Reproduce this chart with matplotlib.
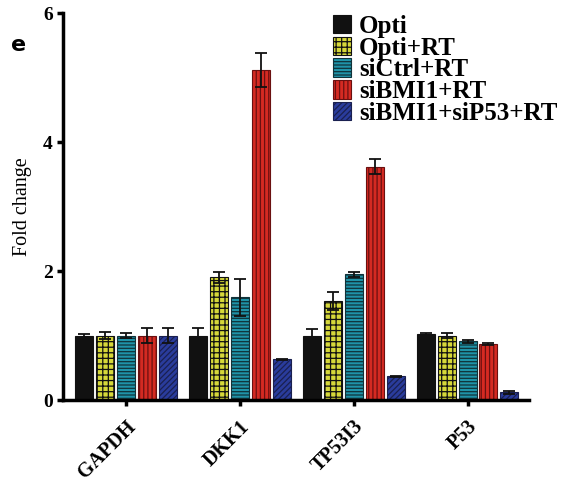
import numpy as np
import matplotlib
matplotlib.use("Agg")
import matplotlib.pyplot as plt
from matplotlib.transforms import ScaledTranslation

genes = ["GAPDH", "DKK1", "TP53I3", "P53"]
series = ["Opti", "Opti+RT", "siCtrl+RT", "siBMI1+RT", "siBMI1+siP53+RT"]

opti = [1.0, 1.0, 1.0, 1.02]
opti_rt = [1.0, 1.9, 1.54, 1.0]
sictrl_rt = [1.0, 1.59, 1.95, 0.91]
sibmi1_rt = [1.0, 5.12, 3.62, 0.87]
sibmi1_sip53_rt = [1.0, 0.63, 0.37, 0.12]

opti_err = [0.03, 0.11, 0.1, 0.02]
opti_rt_err = [0.06, 0.08, 0.14, 0.04]
sictrl_rt_err = [0.04, 0.29, 0.04, 0.02]
sibmi1_rt_err = [0.12, 0.26, 0.11, 0.01]
sibmi1_sip53_rt_err = [0.12, 0.01, 0.01, 0.02]

values = [opti, opti_rt, sictrl_rt, sibmi1_rt, sibmi1_sip53_rt]
errors = [opti_err, opti_rt_err, sictrl_rt_err, sibmi1_rt_err, sibmi1_sip53_rt_err]

# look of each series: face, hatch
faces = ["#111111", "#d6d83a", "#1f93a8", "#d42a22", "#2a3c9c"]
hatches = [None, "+++", "-----", "||||", "//////"]
edges = ["#111111", "#111111", "#10333a", "#6a1010", "#1a2050"]

plt.rcParams["hatch.linewidth"] = 0.9
serif = ["Liberation Serif", "DejaVu Serif"]

fig = plt.figure(figsize=(5.64, 4.82), dpi=100)
ax = fig.add_axes([0.112, 0.170, 0.826, 0.803])

x = np.arange(len(genes))
step = 0.184
width = 0.158
for i in range(len(series)):
    pos = x + (i - 2) * step
    ax.bar(pos, values[i], width, color=faces[i], edgecolor=edges[i],
           hatch=hatches[i], linewidth=0.8, label=series[i], zorder=2)
    ax.errorbar(pos, values[i], yerr=errors[i], fmt="none", ecolor="#111111",
                elinewidth=1.3, capsize=4, capthick=1.3, zorder=3)

ax.set_xlim(-0.55, 3.54)
ax.set_ylim(0, 6)
ax.set_yticks([0, 2, 4, 6])
ax.set_xticks(x)
ax.set_xticklabels(genes, rotation=45, ha="right", rotation_mode="anchor",
                   fontsize=14.5, fontweight="bold", family=serif)
ax.set_yticklabels(["0", "2", "4", "6"], fontsize=14, fontweight="bold", family=serif)
ax.set_ylabel("Fold change", fontsize=14.5, family=serif, labelpad=8)

# nudge the slanted labels a little to the left
shift = ScaledTranslation(-4 / 100, 0, fig.dpi_scale_trans)
for lbl in ax.get_xticklabels():
    lbl.set_transform(lbl.get_transform() + shift)

for s in ["top", "right"]:
    ax.spines[s].set_visible(False)
for s in ["left", "bottom"]:
    ax.spines[s].set_linewidth(2.5)
ax.tick_params(axis="both", direction="out", length=4, width=2.5)
ax.tick_params(axis="x", pad=8)

leg = fig.legend(loc="upper left", bbox_to_anchor=(0.572, 0.99), frameon=False,
                 prop={"family": serif, "weight": "bold", "size": 18},
                 handlelength=0.75, handleheight=0.75, handletextpad=0.3,
                 labelspacing=-0.05, borderaxespad=0)

fig.text(0.02, 0.895, "e", fontsize=16, fontweight="bold")

fig.savefig("out.png", dpi=100)
